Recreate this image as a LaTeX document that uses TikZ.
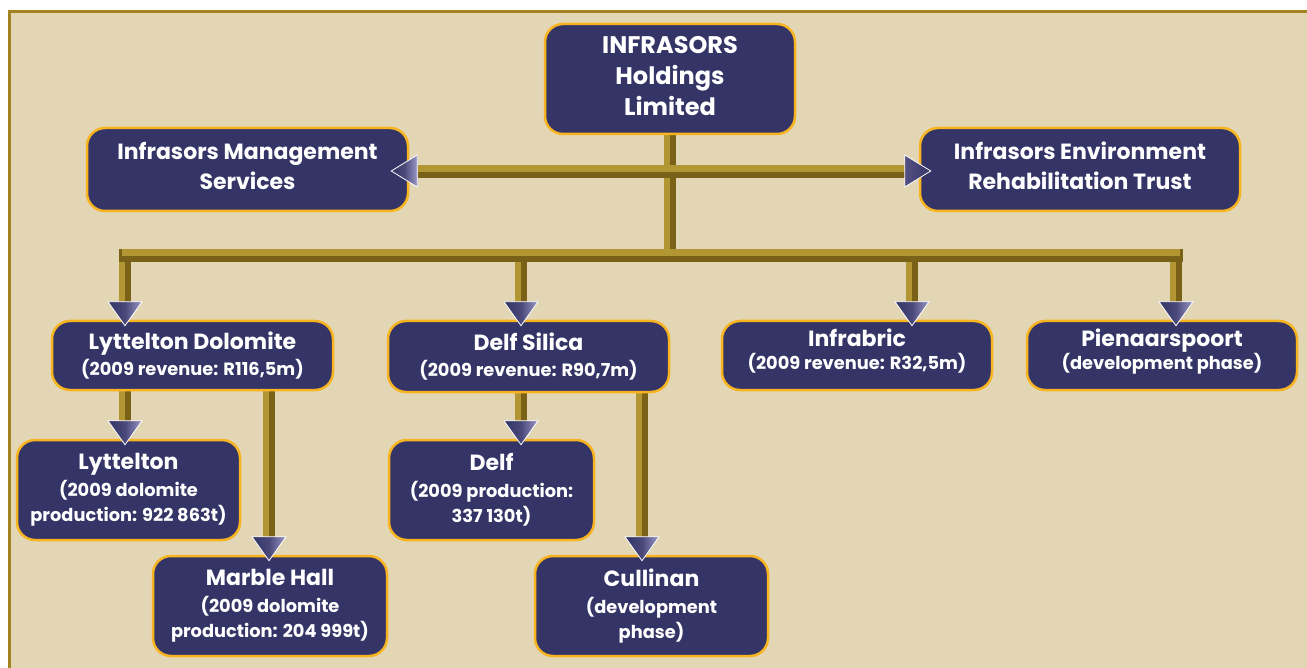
\documentclass[tikz,border=0pt]{standalone}
\usepackage{fontspec}
\setmainfont{Poppins}
\usetikzlibrary{calc}
\definecolor{bgc}{HTML}{E3D6B4}
\definecolor{framec}{HTML}{A3831F}
\definecolor{navy}{HTML}{343466}
\definecolor{lav}{HTML}{9C98C8}
\definecolor{orng}{HTML}{F7B420}
\definecolor{barlight}{HTML}{B39634}
\definecolor{bardark}{HTML}{7A6118}
\newcommand\hdT{\fontsize{24}{31}\selectfont}
\newcommand\hdA{\fontsize{22}{30}\selectfont}
\newcommand\smA{\fontsize{17.8}{25}\selectfont}
\newcommand\arrdown[1]{\shade[left color=navy, right color=lav, middle color=navy!80!lav, draw=white, line width=0.8] ($(#1)+(-17,-24)$) -- ($(#1)+(17,-24)$) -- (#1) -- cycle;}
\newcommand\arrleft[1]{\shade[left color=navy, right color=lav, middle color=navy!80!lav, draw=white, line width=0.8] ($(#1)+(26,-16)$) -- ($(#1)+(26,16)$) -- (#1) -- cycle;}
\newcommand\arrright[1]{\shade[left color=navy!70!lav, right color=navy, draw=white, line width=0.8] ($(#1)+(-26,-16)$) -- ($(#1)+(-26,16)$) -- (#1) -- cycle;}
\begin{document}
\begin{tikzpicture}[x=1pt,y=-1pt,
  box/.style={draw=orng, line width=2.5pt, fill=navy, rounded corners=18pt, text=white, align=center, inner sep=0pt},
  big/.style={font=\bfseries\hdA},
  small/.style={font=\bfseries\smA},
  vbar/.style={line width=12pt, draw=bardark, postaction={draw=barlight, line width=6pt, transform canvas={xshift=-3pt}}},
  hbar/.style={line width=13pt, draw=bardark, postaction={draw=barlight, line width=7pt, transform canvas={yshift=3pt}}},
]
\useasboundingbox (0,0) rectangle (1307,668);
\fill[white] (0,0) rectangle (1307,668);
\fill[bgc] (8,10) rectangle (1320,690);
\draw[framec, line width=3pt] (9.5,690) -- (9.5,11.5) -- (1320,11.5);

% coordinates on the main bar
\coordinate (j) at (670,256);
\coordinate (d1) at (125,256);
\coordinate (d2) at (521,256);
\coordinate (d3) at (912,256);
\coordinate (d4) at (1176,256);

% connectors (drawn before the boxes)
\draw[vbar] (670,120) -- (j);
\draw[vbar] (125,250) -- (125,315);
\draw[vbar] (521,250) -- (521,315);
\draw[vbar] (912,250) -- (912,315);
\draw[vbar] (1176,250) -- (1176,315);
\draw[hbar, line cap=rect] (d1) -- (d4);
\draw[hbar] (400,172) -- (925,172);
\draw[vbar] (125,380) -- (125,435);
\draw[vbar] (269,380) -- (269,552);
\draw[vbar] (521,380) -- (521,435);
\draw[vbar] (642,380) -- (642,552);

% boxes
\node[box, font=\bfseries\hdT, minimum width=250, minimum height=110] (top) at (670,79)
  {INFRASORS\\Holdings\\Limited\\[-25pt]\mbox{}};
\node[box, big, minimum width=321, minimum height=83] (ims) at (247.5,169.5)
  {Infrasors Management\\Services\\[-22pt]\mbox{}};
\node[box, big, minimum width=320, minimum height=83] (iert) at (1080,169.5)
  {Infrasors Environment\\Rehabilitation Trust\\[-22pt]\mbox{}};
\node[box, small, minimum width=281, minimum height=69] (ld) at (192.5,355.5)
  {{\hdA Lyttelton Dolomite}\\[1pt](2009 revenue: R116,5m)};
\node[box, small, minimum width=281, minimum height=71] (ds) at (528.5,356.5)
  {{\hdA Delf Silica}\\[1pt](2009 revenue: R90,7m)};
\node[box, small, minimum width=270, minimum height=69] (inf) at (857,355.5)
  {{\hdA Infrabric}\\[-2pt](2009 revenue: R32,5m)\\[-12pt]\mbox{}};
\node[box, small, minimum width=270, minimum height=69] (pie) at (1162,355.5)
  {{\hdA Pienaarspoort}\\[-2pt](development phase)\\[-12pt]\mbox{}};
\node[box, small, minimum width=223, minimum height=100] (lyt) at (128.5,490)
  {{\hdA Lyttelton}\\[2pt](2009 dolomite\\production: 922 863t)};
\node[box, small, minimum width=234, minimum height=100] (mh) at (270,606)
  {{\hdA Marble Hall}\\[2pt](2009 dolomite\\production: 204 999t)};
\node[box, small, minimum width=205, minimum height=100] (delf) at (491.5,490)
  {{\hdA Delf}\\[2pt](2009 production:\\337 130t)};
\node[box, small, minimum width=233, minimum height=100] (cul) at (651.5,606)
  {{\hdA Cullinan}\\[2pt](development\\phase)};

% arrowheads
\arrdown{$(d1 |- ld.north)+(0,6)$}
\arrdown{$(d2 |- ds.north)+(0,6)$}
\arrdown{$(d3 |- inf.north)+(0,6)$}
\arrdown{$(d4 |- pie.north)+(0,6)$}
\arrdown{$(d1 |- lyt.north)+(0,6)$}
\arrdown{$(269,0 |- mh.north)+(0,6)$}
\arrdown{$(d2 |- delf.north)+(0,6)$}
\arrdown{$(642,0 |- cul.north)+(0,6)$}
\arrleft{$(ims.east)+(-18,1.5)$}
\arrright{$(iert.west)+(12,1.5)$}
\end{tikzpicture}
\end{document}
